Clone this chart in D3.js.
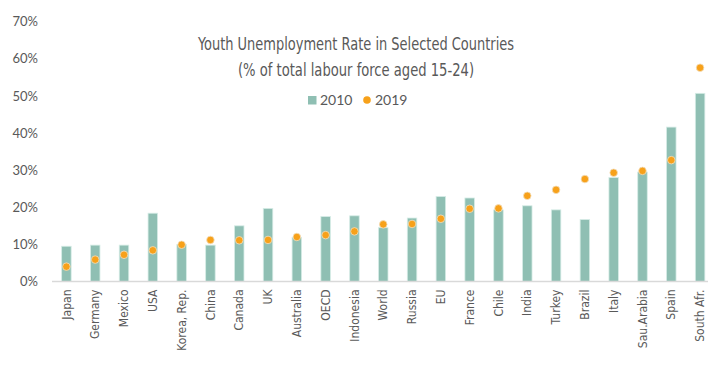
<!DOCTYPE html>
<html lang="en">
	<head>
		<meta charset="utf-8">
		<title>Youth Unemployment Rate</title>
		<script type="text/javascript" src="https://cdn.jsdelivr.net/npm/d3@7"></script>
		<style type="text/css">
			body { margin: 0; background: #fff; }
			.y_axis text {
				font-family: Lato, "Open Sans", sans-serif;
				font-size: 13px;
				fill: #595959;
				}
			.x_axis text {
				font-family: "Liberation Sans Narrow", "DejaVu Sans Condensed", sans-serif;
				font-size: 12px;
				fill: #595959;
				}
			.title {
				font-family: "Liberation Sans Narrow", "DejaVu Sans Condensed", sans-serif;
				font-size: 18px;
				fill: #595959;
				}
			.legend text {
				font-family: Lato, "Open Sans", sans-serif;
				font-size: 14px;
				fill: #595959;
				}
		</style>
	</head>
	<body>
		<script type="text/javascript">

			var w = 708;
			var h = 369;

			// data
			var countries = ["Japan", "Germany", "Mexico", "USA", "Korea, Rep.", "China", "Canada", "UK",
				"Australia", "OECD", "Indonesia", "World", "Russia", "EU", "France", "Chile", "India",
				"Turkey", "Brazil", "Italy", "Sau.Arabia", "Spain", "South Afr."];
			var rate2010 = [9.5, 9.8, 9.8, 18.4, 10.0, 9.8, 15.0, 19.7, 11.9, 17.5, 17.7, 14.5, 17.1,
				22.9, 22.5, 19.3, 20.4, 19.3, 16.7, 28.0, 29.5, 41.6, 50.7];
			var rate2019 = [4.0, 5.9, 7.2, 8.4, 9.9, 11.2, 11.1, 11.2, 12.0, 12.5, 13.5, 15.4, 15.5,
				16.9, 19.6, 19.7, 23.1, 24.7, 27.6, 29.3, 29.8, 32.7, 57.6];
			var yTicks = [0, 10, 20, 30, 40, 50, 60, 70];
			var seriesNames = ["2010", "2019"];

			var barColor = "#8fbfb3";
			var dotColor = "#f7a11a";

			var rows = countries.map(function(c, i){
				return { name: c, v2010: rate2010[i], v2019: rate2019[i] };
			});

			var svg = d3.select("body").append("svg")
				.attr("width", w)
				.attr("height", h);

			var xScale = d3.scaleBand()
				.domain(countries)
				.range([52, 714.5])
				.paddingInner(0.67)
				.paddingOuter(0.335);

			var yScale = d3.scaleLinear()
				.domain([0, 70])
				.range([281.5, 21.7]);

			// y labels only, no axis line
			var yAxis = d3.axisLeft(yScale)
				.tickValues(yTicks)
				.tickSize(0)
				.tickPadding(0)
				.tickFormat(function(d){ return d + "%"; });

			svg.append("g")
				.attr("class", "y_axis")
				.attr("transform", "translate(38,0)")
				.call(yAxis)
				.call(function(g){ g.select(".domain").remove(); });

			// bars
			svg.selectAll("rect.bar")
				.data(rows)
				.enter()
				.append("rect")
				.attr("class", "bar")
				.attr("x", function(d){ return xScale(d.name); })
				.attr("width", xScale.bandwidth())
				.attr("y", function(d){ return yScale(d.v2010); })
				.attr("height", function(d){ return yScale(0) - yScale(d.v2010); })
				.attr("fill", barColor)
				.attr("stroke", "#d6ece6")
				.attr("stroke-width", 0.8);

			// x axis
			var xAxis = d3.axisBottom(xScale).tickSize(0).tickPadding(0);

			var gx = svg.append("g")
				.attr("class", "x_axis")
				.attr("transform", "translate(0," + yScale(0) + ")")
				.call(xAxis);
			gx.select(".domain").attr("stroke", "#d9d9d9").attr("stroke-width", 1.3)
				.attr("d", "M52,0H708");
			gx.selectAll("text")
				.attr("transform", "rotate(-90)")
				.attr("text-anchor", "end")
				.attr("x", -8)
				.attr("y", 0)
				.attr("dy", "0.35em");

			// dots
			svg.selectAll("circle.dot")
				.data(rows)
				.enter()
				.append("circle")
				.attr("class", "dot")
				.attr("cx", function(d){ return xScale(d.name) + xScale.bandwidth() / 2; })
				.attr("cy", function(d){ return yScale(d.v2019); })
				.attr("r", 3.8)
				.attr("fill", dotColor)
				.attr("stroke", "#f3e0c0")
				.attr("stroke-width", 0.8);

			// title (squeezed to mimic the condensed face)
			svg.append("text").attr("class", "title")
				.attr("x", 356).attr("y", 50)
				.attr("text-anchor", "middle")
				.attr("textLength", 316)
				.attr("lengthAdjust", "spacingAndGlyphs")
				.text("Youth Unemployment Rate in Selected Countries");
			svg.append("text").attr("class", "title")
				.attr("x", 356).attr("y", 76)
				.attr("text-anchor", "middle")
				.attr("textLength", 236)
				.attr("lengthAdjust", "spacingAndGlyphs")
				.text("(% of total labour force aged 15-24)");

			// legend
			var legend = svg.append("g").attr("class", "legend");
			legend.append("rect")
				.attr("x", 308).attr("y", 96).attr("width", 8.5).attr("height", 8.5)
				.attr("fill", barColor);
			legend.append("text").attr("x", 320).attr("y", 105).text(seriesNames[0]);
			legend.append("circle")
				.attr("cx", 367).attr("cy", 100).attr("r", 3.8)
				.attr("fill", dotColor);
			legend.append("text").attr("x", 375).attr("y", 105).text(seriesNames[1]);

		</script>
	</body>
</html>
